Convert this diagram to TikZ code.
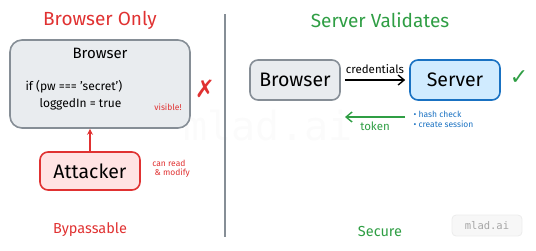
\documentclass[tikz,border=0pt]{standalone}
\usepackage{fontspec}
\setmainfont{Fira Sans}
\setmonofont{DejaVu Sans Mono}
\newfontfamily\symfont{DejaVu Sans}
\usetikzlibrary{arrows.meta, positioning}

\definecolor{badred}{HTML}{E03131}
\definecolor{goodgreen}{HTML}{2F9E44}
\definecolor{srvblue}{HTML}{1971C2}
\definecolor{grayline}{HTML}{868E96}
\definecolor{grayfill}{HTML}{E9ECEF}
\definecolor{redfill}{HTML}{FFE3E3}
\definecolor{bluefill}{HTML}{D0EBFF}

\begin{document}
\begin{tikzpicture}[
    x=1pt, y=-1pt,
    title/.style={font=\fontsize{19}{22}\selectfont},
    verdict/.style={font=\fontsize{14.5}{17}\selectfont},
    small/.style={font=\fontsize{8.5}{10}\selectfont, align=left},
    label/.style={font=\fontsize{11.5}{13}\selectfont},
    sbox/.style={rectangle, rounded corners=8pt, line width=1.6pt, align=center, font=\fontsize{19.5}{22}\selectfont},
    client/.style={sbox, draw=grayline, fill=grayfill},
    attack/.style={sbox, draw=badred, fill=redfill},
    server/.style={sbox, draw=srvblue, fill=bluefill},
    arrow/.style={-{Straight Barb[length=6pt, width=10pt]}, line width=1.4pt}
]
\useasboundingbox (0,0) rectangle (536,250);

% watermark
\node[font=\ttfamily\fontsize{40}{40}\selectfont, text=gray!3] (wmark) at (268,125) {mlad.ai};

% left: browser only
\node[title, text=badred] (ltitle) at (100,20) {Browser Only};
\node[client, minimum width=180pt, minimum height=88pt, rounded corners=12pt] (lbrowser) at (100,84) {};
\node[font=\fontsize{15}{18}\selectfont, below=5pt of lbrowser.north] (lbname) {Browser};
\node[label, font=\fontsize{12}{14}\selectfont, anchor=west] (code1) at (22,87) {if (pw === 'secret')};
\node[label, font=\fontsize{12}{14}\selectfont, anchor=west] (code2) at (36,104) {loggedIn = true};
\node[small, text=badred] (visible) at (168,107) {visible!};
\node[font=\symfont\fontsize{24}{24}\selectfont, text=badred] (cross) at (205,89) {✗};

\node[attack, minimum width=100pt, minimum height=38pt] (attacker) at (90,171) {Attacker};
\node[small, text=badred, right=8pt of attacker, yshift=2pt] (canread) {can read\\[-1pt]\ \& modify};
\draw[-{Stealth[length=6pt, width=6pt]}, line width=1.4pt, badred] (attacker) -- (lbrowser.south -| attacker);
\node[verdict, text=badred] (bypass) at (90,230) {Bypassable};

% divider
\coordinate (dtop) at (225,14);
\coordinate (dbot) at (225,237);
\draw[grayline, line width=1.2pt] (dtop) -- (dbot);

% right: server validates
\node[title, text=goodgreen] (rtitle) at (380,20) {Server Validates};
\node[client, minimum width=90pt, minimum height=40pt] (rbrowser) at (295,80) {Browser};
\node[server, minimum width=90pt, minimum height=40pt] (server) at (455,80) {Server};
\draw[arrow, shorten <=4pt, shorten >=4pt] (rbrowser) -- node[above=2pt, label] (cred) {credentials} (server);
\node[font=\symfont\fontsize{22}{22}\selectfont, text=goodgreen] (check) at (519,78) {✓};
\coordinate (tokfrom) at (405,117);
\coordinate (tokto) at (345,117);
\draw[arrow, goodgreen] (tokfrom) -- node[below=1pt, label] (token) {token} (tokto);
\node[small, text=srvblue, anchor=north west] (steps) at (410,108) {• hash check\\[0pt]• create session};
\node[verdict, text=goodgreen] (secure) at (380,231) {Secure};

% badge
\node[rectangle, rounded corners=4pt, draw=gray!15, fill=gray!6, line width=0.8pt, minimum width=70pt, minimum height=21pt, font=\ttfamily\fontsize{10.5}{12}\selectfont, text=gray!70] (badge) at (487,225.5) {mlad.ai};
\end{tikzpicture}
\end{document}
